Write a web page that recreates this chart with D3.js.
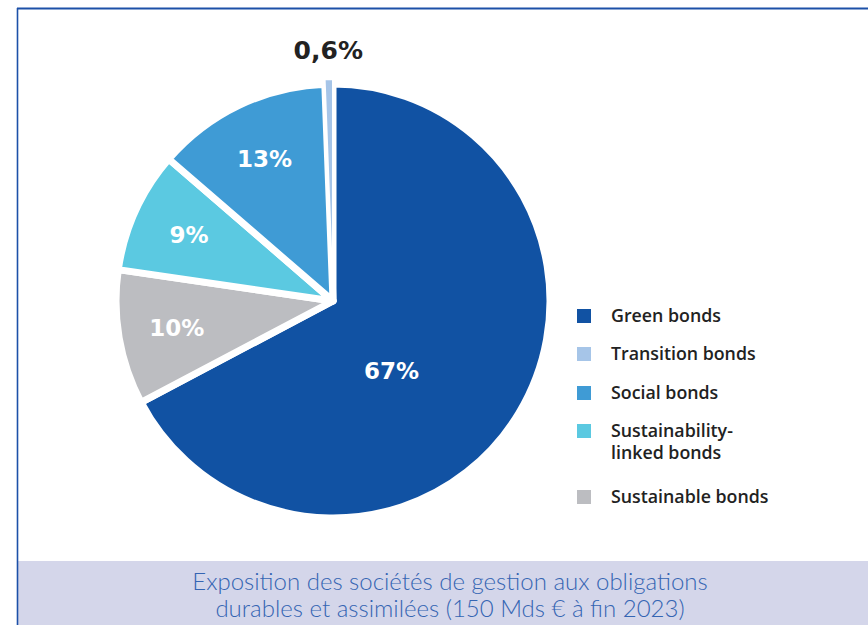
<!DOCTYPE html>
<html>
<head>
<meta charset="utf-8">
<script src="https://cdn.jsdelivr.net/npm/d3@7/dist/d3.min.js"></script>
<style>
  html, body { margin: 0; padding: 0; background: #fff; }
  svg { display: block; }
</style>
</head>
<body>
<script>
//pie chart of sustainable bond exposure

//data
var categories = ["Green bonds", "Sustainable bonds", "Sustainability-linked bonds", "Social bonds", "Transition bonds"];
var shares = [67, 10, 9, 13, 0.6];
var sliceLabels = ["67%", "10%", "9%", "13%", "0,6%"];
//legend order is not the slice order
var legendOrder = ["Green bonds", "Transition bonds", "Social bonds", "Sustainability-linked bonds", "Sustainable bonds"];
var legendLines = {
    "Green bonds": ["Green bonds"],
    "Transition bonds": ["Transition bonds"],
    "Social bonds": ["Social bonds"],
    "Sustainability-linked bonds": ["Sustainability-", "linked bonds"],
    "Sustainable bonds": ["Sustainable bonds"]
};
var captionLines = ["Exposition des sociétés de gestion aux obligations", "durables et assimilées (150 Mds € à fin 2023)"];

(function(){

var width = 868,
    height = 625;

var color = d3.scaleOrdinal()
    .domain(["Green bonds", "Transition bonds", "Social bonds", "Sustainability-linked bonds", "Sustainable bonds"])
    .range(["#1152a3", "#a6c5e8", "#3f9bd5", "#5bc9e1", "#bcbdc1"]);

var svg = d3.select("body")
    .append("svg")
    .attr("width", width)
    .attr("height", height);

//frame lines top and left
svg.append("line")
    .attr("x1", 17).attr("x2", width)
    .attr("y1", 8.5).attr("y2", 8.5)
    .attr("stroke", "#1c50a8").attr("stroke-width", 2);

//caption band
svg.append("rect")
    .attr("x", 18).attr("y", 561)
    .attr("width", width - 18).attr("height", height - 561)
    .attr("fill", "#d4d6ea");

svg.append("line")
    .attr("x1", 17.5).attr("x2", 17.5)
    .attr("y1", 8).attr("y2", height)
    .attr("stroke", "#1c50a8").attr("stroke-width", 1.6);

svg.selectAll(".caption")
    .data(captionLines)
    .enter()
    .append("text")
    .attr("class", "caption")
    .attr("x", 450)
    .attr("y", function(d, i){ return 590 + i * 27; })
    .attr("text-anchor", "middle")
    .attr("font-family", "Lato, 'Open Sans', sans-serif")
    .attr("font-weight", 300)
    .attr("font-size", "24px")
    .attr("fill", "#3565b3")
    .text(function(d){ return d; });

//pie
var cx = 333, cy = 301, radius = 217;

var pie = d3.pie()
    .sort(null)
    .value(function(d){ return d.value; });

var slices = pie(categories.map(function(c, i){
    return {name: c, value: shares[i], label: sliceLabels[i]};
}));

var arc = d3.arc()
    .innerRadius(0)
    .outerRadius(radius);

var arcSmall = d3.arc()
    .innerRadius(0)
    .outerRadius(radius + 5);

var g = svg.append("g")
    .attr("transform", "translate(" + cx + "," + cy + ")");

g.selectAll(".slice")
    .data(slices.filter(function(d){ return d.data.value >= 1; }))
    .enter()
    .append("path")
    .attr("class", "slice")
    .attr("d", arc)
    .attr("fill", function(d){ return color(d.data.name); })
    .attr("stroke", "#fff")
    .attr("stroke-width", 7)
    .attr("stroke-linejoin", "round");

//tiny slice is drawn on top, pulled out a bit
g.selectAll(".tiny")
    .data(slices.filter(function(d){ return d.data.value < 1; }))
    .enter()
    .append("path")
    .attr("class", "tiny")
    .attr("d", arcSmall)
    .attr("fill", function(d){ return color(d.data.name); })
    .attr("stroke", "#fff")
    .attr("stroke-width", 2);

//labels
var labelArc = d3.arc()
    .innerRadius(radius * 0.73)
    .outerRadius(radius * 0.73);

function labelPos(d){
    if (d.data.value < 1) {
        //outside label
        var a = (d.startAngle + d.endAngle) / 2;
        return [Math.sin(a) * 251, -Math.cos(a) * 251];
    }
    if (d.data.value > 50) {
        //big slice, label sits toward the lower part
        var m = (d.startAngle + d.endAngle) / 2 + 0.33;
        return [Math.sin(m) * 91, -Math.cos(m) * 91];
    }
    return labelArc.centroid(d);
}

g.selectAll(".lbl")
    .data(slices)
    .enter()
    .append("text")
    .attr("class", "lbl")
    .attr("x", function(d){ return labelPos(d)[0]; })
    .attr("y", function(d){ return labelPos(d)[1]; })
    .attr("dy", "0.36em")
    .attr("text-anchor", "middle")
    .attr("font-family", "'DejaVu Sans', sans-serif")
    .attr("font-weight", "bold")
    .attr("font-size", function(d){ return d.data.value < 1 ? "25px" : "23px"; })
    .attr("fill", function(d){ return d.data.value < 1 ? "#222" : "#fff"; })
    .text(function(d){ return d.data.label; });

//legend
var legendY = [316, 354, 393, 431, 497];

var legend = svg.selectAll(".legend")
    .data(legendOrder)
    .enter()
    .append("g")
    .attr("class", "legend")
    .attr("transform", function(d, i){ return "translate(577," + legendY[i] + ")"; });

legend.append("rect")
    .attr("x", 0).attr("y", -7)
    .attr("width", 14).attr("height", 14)
    .attr("fill", function(d){ return color(d); });

legend.each(function(d){
    d3.select(this).selectAll("text")
        .data(legendLines[d])
        .enter()
        .append("text")
        .attr("x", 34)
        .attr("y", function(t, i){ return i * 22; })
        .attr("dy", "0.36em")
        .attr("font-family", "'Open Sans', sans-serif")
        .attr("font-weight", 600)
        .attr("font-size", "17.8px")
        .attr("fill", "#222")
        .text(function(t){ return t; });
});

})();
</script>
</body>
</html>
